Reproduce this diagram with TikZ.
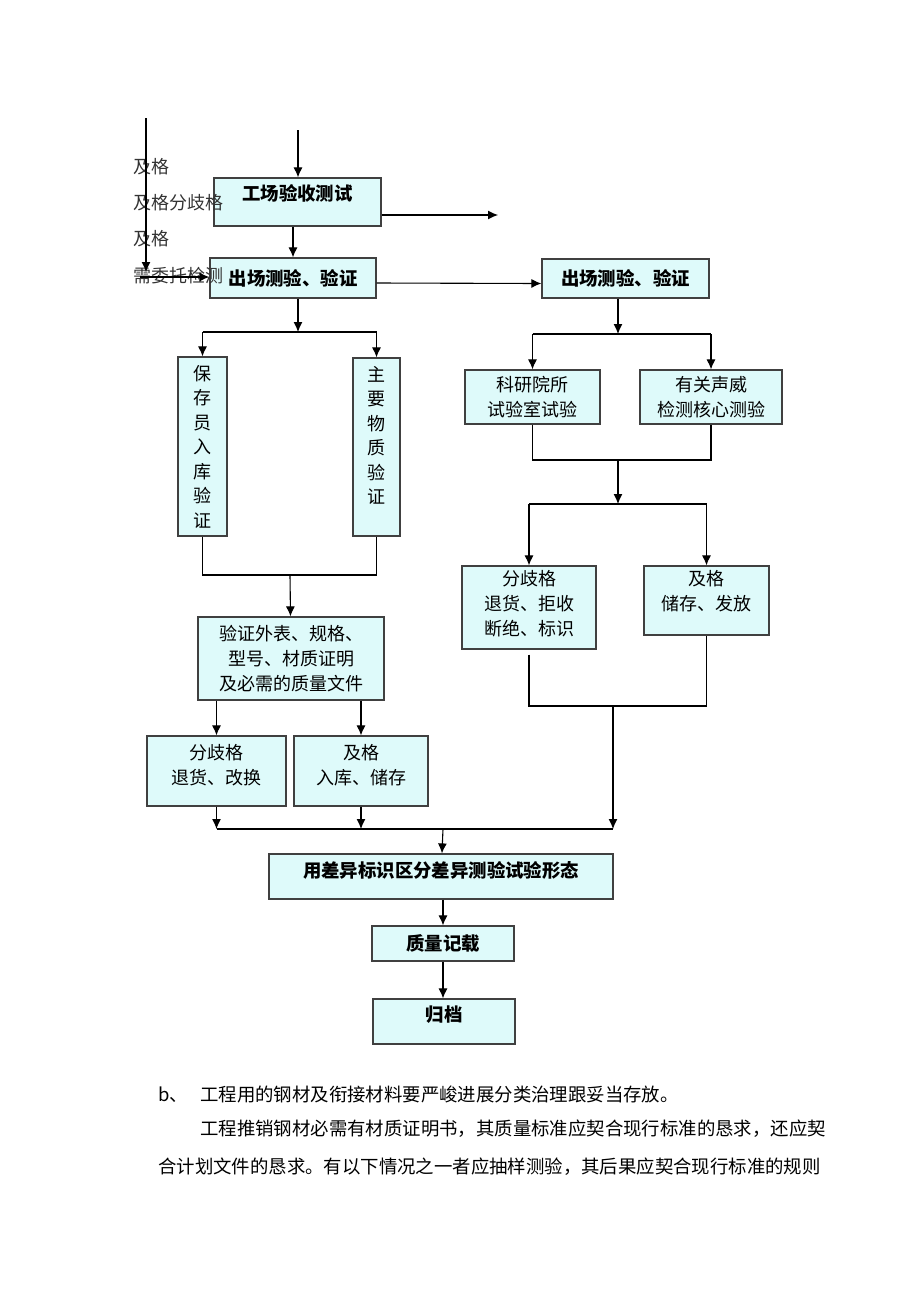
\documentclass[tikz,border=0pt]{standalone}
\usepackage{fontspec}
\setmainfont{Noto Sans CJK SC}
\usetikzlibrary{arrows.meta}
\definecolor{boxfill}{RGB}{222,250,250}
\newcommand{\pushup}[1]{\rule[-#1]{0pt}{#1}}
\begin{document}
\begin{tikzpicture}
[x=1pt,y=-1pt,>={Latex[length=10pt,width=9pt]},
 box/.style={draw=black!75,fill=boxfill,line width=1.2pt,inner sep=0pt,align=center,font=\fontsize{18}{25}\selectfont},
 headbox/.style={box,font=\fontsize{18.4}{25}\selectfont\bfseries},
 wire/.style={line width=1.1pt},
 note/.style={anchor=west,inner sep=0pt,font=\fontsize{18}{20}\selectfont,text=black!80},
 para/.style={anchor=base west,inner sep=0pt,font=\fontsize{18.4}{20}\selectfont}]
\useasboundingbox (0,0) rectangle (920,1302);

% boxes
\node (factory) at (297.5,202) [headbox,minimum width=167,minimum height=48] {工场验收测试\pushup{20pt}};
\node (out1) at (293,278) [headbox,minimum width=166,minimum height=40] {出场测验、验证};
\node (out2) at (625.5,278.5) [headbox,minimum width=167,minimum height=39] {出场测验、验证};
\node (keeper) at (202.5,446.5) [box,minimum width=49,minimum height=179,font=\fontsize{18}{24.5}\selectfont] {保\\存\\员\\入\\库\\验\\证};
\node (mainmat) at (376.5,447) [box,minimum width=47,minimum height=178,font=\fontsize{18}{24.5}\selectfont] {主\\要\\物\\质\\验\\证\pushup{24pt}};
\node (check) at (291,658.5) [box,minimum width=186,minimum height=83] {验证外表、规格、\\型号、材质证明\\及必需的质量文件};
\node (rej1) at (216.5,771) [box,minimum width=139,minimum height=70] {分歧格\\退货、改换\pushup{14pt}};
\node (ok1) at (361,771) [box,minimum width=134,minimum height=70] {及格\\入库、储存\pushup{14pt}};
\node (lab) at (532.5,397) [box,minimum width=135,minimum height=54] {科研院所\\试验室试验};
\node (auth) at (711,397) [box,minimum width=142,minimum height=54] {有关声威\\检测核心测验};
\node (rej2) at (529,607.5) [box,minimum width=134,minimum height=83] {分歧格\\退货、拒收\\断绝、标识\pushup{9pt}};
\node (ok2) at (706.5,600.5) [box,minimum width=125,minimum height=69] {及格\\储存、发放\pushup{20pt}};
\node (mark) at (441,876.5) [headbox,minimum width=344,minimum height=45] {用差异标识区分差异测验试验形态\pushup{15pt}};
\node (record) at (443,943.5) [headbox,minimum width=142,minimum height=35] {质量记载};
\node (archive) at (444,1021.5) [headbox,minimum width=142,minimum height=45] {归档\pushup{15pt}};

% left column of notes
\node (n1) at (133,167) [note] {及格};
\node (n2) at (133,203) [note] {及格分歧格};
\node (n3) at (133,239) [note] {及格};
\node (n4) at (133,276) [note] {需委托检测};
\coordinate (lt) at (146,118);
\coordinate (lb) at (146,272);
\coordinate (lw) at (140,277);

% branch and merge points
\coordinate (in) at (298,130);
\coordinate (fr) at (498,215);
\coordinate (s1) at (298,332);
\coordinate (m1) at (290,575);
\coordinate (s2) at (618,334);
\coordinate (m4) at (618,460);
\coordinate (s3) at (618,504);
\coordinate (m3) at (613,706);
\coordinate (m2) at (443,829);

% connectors
\draw [wire,->] (lt) -- (lb);
\draw [wire,->] (lw) -- (lw -| out1.west);
\draw [wire,->] (in) -- (in |- factory.north);
\draw [wire,->] (factory.east |- fr) -- (fr);
\draw [wire,->] (factory.south -| out1) -- (out1);
\draw [wire,->] ([yshift=-5pt]out1.east) -- ([yshift=-5pt]out2.west);

\draw [wire,->] (out1.south -| s1) -- (s1);
\draw [wire] (keeper |- s1) -- (mainmat |- s1);
\foreach \to in {keeper, mainmat}
	\draw [wire,->] (\to |- s1) -- (\to);
\draw [wire] (keeper) -- (keeper |- m1) -- (mainmat |- m1) -- (mainmat);
\draw [wire,->] (m1) -- (check);
\foreach \to in {rej1, ok1}
	\draw [wire,->] (check.south -| \to) -- (\to);
\foreach \from in {rej1, ok1}
	\draw [wire,->] (\from) -- (\from |- m2);

\draw [wire,->] (out2.south -| s2) -- (s2);
\draw [wire] (lab |- s2) -- (auth |- s2);
\foreach \to in {lab, auth}
	\draw [wire,->] (\to |- s2) -- (\to);
\draw [wire] (lab) -- (lab |- m4) -- (auth |- m4) -- (auth);
\draw [wire,->] (m4) -- (s3);
\draw [wire] (rej2 |- s3) -- (ok2 |- s3);
\foreach \to in {rej2, ok2}
	\draw [wire,->] (\to |- s3) -- (\to);
\draw [wire] ([yshift=-5pt]rej2.south) -- (rej2 |- m3) -- (ok2 |- m3) -- (ok2);
\draw [wire,->] (m3) -- (m3 |- m2);

\draw [wire] (rej1 |- m2) -- (m3 |- m2);
\draw [wire,->] (m2) -- (mark);
\draw [wire,->] (mark.south -| record) -- (record);
\draw [wire,->] (record) -- (archive.north -| record);

% text below the chart
\node (b) at (158,1101) [para] {b、};
\node (t1) at (200,1101) [para] {工程用的钢材及衔接材料要严峻进展分类治理跟妥当存放。};
\node (t2) at (200,1135) [para] {工程推销钢材必需有材质证明书，其质量标准应契合现行标准的恳求，还应契};
\node (t3) at (158,1173) [para] {合计划文件的恳求。有以下情况之一者应抽样测验，其后果应契合现行标准的规则};
\end{tikzpicture}
\end{document}
